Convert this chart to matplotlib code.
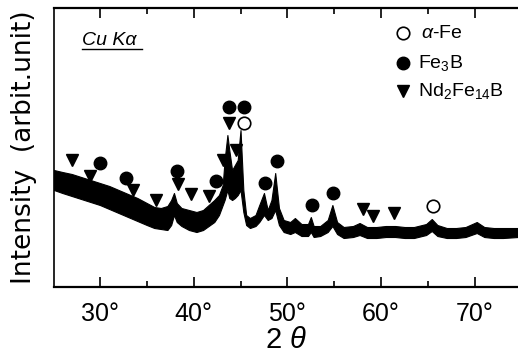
import matplotlib
matplotlib.use("Agg")
import matplotlib.pyplot as plt

plt.rcParams['mathtext.fontset'] = 'custom'
plt.rcParams['mathtext.rm'] = 'Liberation Sans'
plt.rcParams['mathtext.it'] = 'Liberation Sans:italic'

# XRD pattern: upper / lower edge of the noisy trace
two_theta = [25.1, 26.0, 27.0, 28.0, 29.0, 30.0, 31.0, 32.0, 33.0, 34.0, 35.0,
             35.8, 36.5, 37.2, 37.6, 37.9, 38.2, 38.7, 39.5, 40.3, 41.0, 41.6,
             42.2, 42.7, 43.1, 43.3, 43.6, 43.8, 44.1, 44.4, 44.7, 45.0, 45.3,
             45.6, 46.0, 46.6, 47.0, 47.5, 47.9, 48.3, 48.7, 49.1, 49.6, 50.3,
             50.8, 51.5, 52.2, 52.5, 52.8, 53.5, 54.3, 54.8, 55.3, 56.0, 57.0,
             57.7, 58.5, 59.5, 60.5, 61.5, 62.5, 63.5, 64.8, 65.4, 66.0, 67.0,
             68.0, 69.0, 70.2, 71.0, 72.0, 73.0, 74.6]
upper = [117, 115, 113, 110, 107, 104, 101, 97, 93, 89, 84,
         80, 79, 81, 87, 94, 84, 79, 77, 75, 77, 82,
         87, 92, 102, 127, 152, 137, 117, 122, 127, 157, 97,
         72, 69, 72, 82, 94, 77, 87, 114, 79, 67, 65,
         69, 63, 63, 70, 61, 61, 67, 82, 65, 60, 61,
         64, 60, 60, 61, 61, 60, 60, 63, 68, 62, 59,
         59, 60, 65, 60, 59, 59, 59]
lower = [97, 94, 91, 88, 85, 82, 78, 74, 70, 66, 62,
         59, 58, 57, 62, 72, 65, 61, 57, 55, 57, 61,
         65, 72, 82, 87, 97, 89, 87, 89, 92, 97, 75,
         62, 59, 61, 65, 72, 67, 69, 77, 62, 55, 53,
         55, 51, 51, 55, 50, 51, 55, 61, 53, 49, 50,
         52, 49, 49, 50, 50, 49, 49, 52, 56, 51, 49,
         49, 50, 54, 50, 49, 49, 50]

# phase markers (2theta, height)
afe_x = [45.4, 65.5]
afe_y = [164, 81]
fe3b_x = [30.0, 32.8, 38.2, 42.4, 43.8, 45.4, 47.6, 48.9, 52.6, 54.9]
fe3b_y = [124, 109, 116, 106, 180, 180, 104, 126, 82, 94]
ndfeb_x = [27.0, 28.9, 33.5, 36.0, 38.3, 39.7, 41.6, 43.1, 44.5, 43.8, 58.1, 59.1, 61.4]
ndfeb_y = [127, 111, 97, 87, 103, 93, 91, 127, 137, 164, 78, 71, 74]

xticks = [30, 40, 50, 60, 70]
xticklabels = ["30°", "40°", "50°", "60°", "70°"]

fig = plt.figure(figsize=(5.18, 3.58), dpi=100)
ax = fig.add_axes([0.1042, 0.1983, 0.8958, 0.7793])

ax.fill_between(two_theta, lower, upper, color='black', linewidth=0.8)
ax.plot(afe_x, afe_y, 'o', ms=9, mfc='white', mec='black', mew=1.2, clip_on=False)
ax.plot(fe3b_x, fe3b_y, 'o', ms=9, color='black')
ax.plot(ndfeb_x, ndfeb_y, 'v', ms=9, color='black')

# legend drawn by hand
lx, tx = 0.752, 0.785
ax.plot([lx], [0.910], 'o', ms=9, mfc='white', mec='black', mew=1.2, transform=ax.transAxes)
ax.plot([lx], [0.803], 'o', ms=9, color='black', transform=ax.transAxes)
ax.plot([lx], [0.703], 'v', ms=9, color='black', transform=ax.transAxes)
ax.text(tx + 0.005, 0.910, r"$\mathit{\alpha}$-Fe", transform=ax.transAxes, va='center',
        fontsize=14, family='Liberation Sans')
ax.text(tx, 0.803, r"Fe$_3$B", transform=ax.transAxes, va='center',
        fontsize=14, family='Liberation Sans')
ax.text(tx, 0.703, r"Nd$_2$Fe$_{14}$B", transform=ax.transAxes, va='center',
        fontsize=14, family='Liberation Sans')

ax.text(0.060, 0.885, "Cu Kα", transform=ax.transAxes, va='center', ha='left',
        fontsize=14, family='Liberation Sans', style='italic')
ax.plot([0.060, 0.190], [0.853, 0.853], color='black', lw=1, transform=ax.transAxes)

ax.set_xlim(25.1, 74.6)
ax.set_ylim(0, 279)
ax.set_xticks(xticks)
ax.set_xticklabels(xticklabels, fontsize=18, family='Liberation Sans')
ax.set_xticks([35, 45, 55, 65], minor=True)
ax.set_yticks([])
ax.tick_params(axis='x', which='major', direction='in', length=7, width=1.2,
               top=True, pad=11)
ax.tick_params(axis='x', which='minor', direction='in', length=4, width=1.2, top=True)
ax.spines['right'].set_visible(False)
for s in ['top', 'bottom']:
    ax.spines[s].set_linewidth(1.6)
ax.spines['left'].set_linewidth(1.2)

ax.set_xlabel(r"2 $\mathit{\theta}$", fontsize=21, family='Liberation Sans', labelpad=0)
ax.set_ylabel("Intensity  (arbit.unit)", fontsize=19, family='DejaVu Sans', labelpad=12)

fig.savefig("out.png", dpi=100)
